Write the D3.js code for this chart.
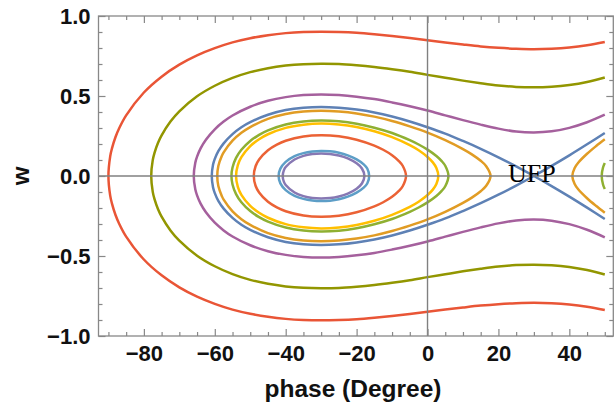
<!DOCTYPE html>
<html>
<head>
<meta charset="utf-8">
<script src="https://cdn.jsdelivr.net/npm/d3@7"></script>
<style>
  body { margin: 0; background: #fff; }
  .tick text { font-family: "Liberation Sans", Arial, sans-serif; font-weight: bold; font-size: 22px; fill: #111; }
</style>
</head>
<body>
<div id="chart"></div>
<script>
// upper halves (w >= 0) of each trajectory: [phase (deg), w]
const redOuter = [[-90,0],[-89.5,0.123],[-89,0.173],[-88,0.244],[-87,0.297],[-85,0.379],[-80,0.522],[-75,0.621],[-70,0.696],[-65,0.754],[-60,0.799],[-55,0.835],[-50,0.861],[-45,0.880],[-40,0.893],[-35,0.900],[-30,0.902],[-25,0.900],[-20,0.895],[-15,0.886],[-10,0.875],[-5,0.863],[0,0.849],[5,0.835],[10,0.822],[15,0.810],[20,0.801],[25,0.795],[30,0.792],[35,0.795],[40,0.803],[45,0.817],[50,0.837]];
const olive = [[-77.93,0],[-77.5,0.099],[-77,0.145],[-76,0.208],[-75,0.254],[-72.5,0.340],[-70,0.404],[-65,0.498],[-60,0.564],[-55,0.613],[-50,0.649],[-45,0.674],[-40,0.690],[-35,0.699],[-30,0.702],[-25,0.700],[-20,0.692],[-15,0.681],[-10,0.667],[-5,0.651],[0,0.632],[5,0.614],[10,0.596],[15,0.580],[20,0.566],[25,0.557],[30,0.554],[35,0.558],[40,0.569],[45,0.588],[50,0.616]];
const purpleOuter = [[-65.93,0],[-65.5,0.083],[-65,0.121],[-64,0.173],[-62.5,0.227],[-60,0.292],[-57.5,0.340],[-55,0.378],[-50,0.433],[-45,0.470],[-40,0.493],[-35,0.506],[-30,0.510],[-25,0.506],[-20,0.496],[-15,0.481],[-10,0.460],[-5,0.436],[0,0.409],[5,0.379],[10,0.349],[15,0.321],[20,0.296],[25,0.278],[30,0.272],[35,0.279],[40,0.301],[45,0.336],[50,0.383]];
const sepLoop = [[-60.85,0],[-60.5,0.070],[-60,0.107],[-59,0.155],[-57.5,0.204],[-55,0.262],[-52.5,0.305],[-50,0.337],[-45,0.383],[-40,0.412],[-35,0.427],[-30,0.432],[-25,0.427],[-20,0.415],[-15,0.397],[-10,0.372],[-5,0.341],[0,0.305],[5,0.265],[10,0.219],[15,0.170],[20,0.117],[25,0.060],[30,0]];
const sepRight = [[30,0],[35,0.063],[40,0.129],[45,0.198],[50,0.269]];
const orangeLoop = [[-59.3,0],[-59,0.063],[-58,0.126],[-57.5,0.148],[-55,0.221],[-52.5,0.270],[-50,0.306],[-45,0.357],[-40,0.387],[-35,0.403],[-30,0.408],[-25,0.403],[-20,0.391],[-15,0.371],[-10,0.344],[-5,0.310],[0,0.271],[5,0.224],[10,0.168],[12.5,0.135],[15,0.095],[16.5,0.063],[17.78,0]];
const orangeRight = [[40.84,0],[41.5,0.050],[42.5,0.083],[45,0.139],[47.5,0.186],[50,0.229]];
const greenLoop = [[-55.3,0],[-55,0.053],[-54,0.113],[-52.5,0.164],[-50,0.219],[-47.5,0.257],[-45,0.285],[-40,0.322],[-35,0.341],[-30,0.347],[-25,0.342],[-20,0.327],[-15,0.302],[-10,0.269],[-5,0.224],[-2.5,0.197],[0,0.165],[2.5,0.125],[4,0.093],[5,0.064],[5.9,0]];
const greenRight = [[49.13,0],[49.5,0.053],[50,0.081]];
const yellowLoop = [[-54,0],[-53.5,0.068],[-52.5,0.118],[-50,0.187],[-47.5,0.230],[-45,0.261],[-40,0.301],[-35,0.321],[-30,0.328],[-25,0.322],[-20,0.306],[-15,0.280],[-10,0.243],[-5,0.193],[-2.5,0.161],[0,0.119],[1.5,0.085],[2.5,0.050],[3.05,0]];
const redInner = [[-49,0],[-48.5,0.061],[-47.5,0.103],[-45,0.161],[-42.5,0.196],[-40,0.220],[-35,0.247],[-30,0.255],[-25,0.248],[-20,0.227],[-15,0.190],[-12.5,0.164],[-10,0.130],[-8,0.092],[-7,0.064],[-6.07,0]];
const lightBlue = [[-42,0],[-41.5,0.046],[-40,0.088],[-37.5,0.124],[-35,0.143],[-32.5,0.153],[-30,0.157],[-27.5,0.154],[-25,0.145],[-22.5,0.129],[-20,0.104],[-18,0.073],[-17,0.047],[-16.45,0]];
const purpleInner = [[-40.85,0],[-40.5,0.037],[-40,0.056],[-37.5,0.103],[-35,0.126],[-32.5,0.138],[-30,0.141],[-27.5,0.138],[-25,0.128],[-22.5,0.110],[-20,0.079],[-18.5,0.047],[-17.8,0]];

const xMajor = [-80, -60, -40, -20, 0, 20, 40];
const yMajor = [-1.0, -0.5, 0.0, 0.5, 1.0];
const xLabel = "phase (Degree)";
const yLabel = "w";
const ufp = {phase: 22.7, w: -0.04, text: "UFP"};

const width = 616, height = 405;
const x = d3.scaleLinear().domain([-92.8, 52.4]).range([98.5, 613.3]);
const y = d3.scaleLinear().domain([-1, 1]).range([336, 16]);

const svg = d3.select("#chart").append("svg")
    .attr("width", width)
    .attr("height", height);

svg.append("clipPath").attr("id", "plot-clip")
  .append("rect")
    .attr("x", x.range()[0]).attr("y", y.range()[1])
    .attr("width", x.range()[1] - x.range()[0])
    .attr("height", y.range()[0] - y.range()[1]);

const mirror = pts => pts.map(d => [d[0], -d[1]]);

// closed orbit: top half left->right, bottom half back
function loopPoints(upper) {
    return upper.concat(mirror(upper.slice(1, -1)).reverse());
}
// open branch through its w=0 turning point
function branchPoints(upper) {
    return mirror(upper).reverse().concat(upper.slice(1));
}
// separatrix: upper-right -> saddle -> lower loop -> upper loop -> saddle -> lower-right
function separatrixPoints(loop, right) {
    const lowerLoop = mirror(loop).reverse();
    return right.slice().reverse()
        .concat(lowerLoop.slice(1))
        .concat(loop.slice(1))
        .concat(mirror(right).slice(1));
}

const curves = [
    {pts: separatrixPoints(sepLoop, sepRight), closed: false, color: "#5E81B5"},
    {pts: loopPoints(orangeLoop), closed: true, color: "#E19C24"},
    {pts: branchPoints(orangeRight), closed: false, color: "#E19C24"},
    {pts: loopPoints(greenLoop), closed: true, color: "#8FB032"},
    {pts: branchPoints(greenRight), closed: false, color: "#8FB032"},
    {pts: loopPoints(redInner), closed: true, color: "#EB6235"},
    {pts: loopPoints(purpleInner), closed: true, color: "#8778B3"},
    {pts: loopPoints(lightBlue), closed: true, color: "#5D9EC7"},
    {pts: loopPoints(yellowLoop), closed: true, color: "#FFBF00"},
    {pts: branchPoints(purpleOuter), closed: false, color: "#A5609D"},
    {pts: branchPoints(olive), closed: false, color: "#929600"},
    {pts: branchPoints(redOuter), closed: false, color: "#E95536"}
];

const lineOpen = d3.line().x(d => x(d[0])).y(d => y(d[1])).curve(d3.curveCatmullRom.alpha(0.5));
const lineClosed = d3.line().x(d => x(d[0])).y(d => y(d[1])).curve(d3.curveCatmullRomClosed.alpha(0.5));

const plot = svg.append("g").attr("clip-path", "url(#plot-clip)");
plot.selectAll("path.orbit")
    .data(curves)
    .join("path")
    .attr("class", "orbit")
    .attr("fill", "none")
    .attr("stroke", d => d.color)
    .attr("stroke-width", 2.5)
    .attr("stroke-linejoin", "round")
    .attr("d", d => d.closed ? lineClosed(d.pts) : lineOpen(d.pts));

// axes through the origin
svg.append("line")
    .attr("x1", x.range()[0]).attr("x2", x.range()[1])
    .attr("y1", y(0)).attr("y2", y(0))
    .attr("stroke", "#808080").attr("stroke-width", 1.4);
svg.append("line")
    .attr("x1", x(0)).attr("x2", x(0))
    .attr("y1", y.range()[0]).attr("y2", y.range()[1])
    .attr("stroke", "#808080").attr("stroke-width", 1.4);

// frame ticks, pointing inward
const xMinor = d3.range(-90, 51, 5).filter(v => !xMajor.includes(v));
const yMinor = d3.range(-10, 11).map(v => v / 10).filter(v => !yMajor.some(m => Math.abs(m - v) < 1e-9));
const fmtY = d3.format(".1f");

function frameAxis(axis, tr) {
    const g = svg.append("g").attr("transform", tr).call(axis);
    g.select(".domain").remove();
    g.selectAll(".tick line").attr("stroke", "#888").attr("stroke-width", 1.2);
    return g;
}

frameAxis(d3.axisBottom(x).tickValues(xMajor).tickSize(-7).tickPadding(9).tickFormat(d3.format("d")), `translate(0,${y.range()[0]})`);
frameAxis(d3.axisBottom(x).tickValues(xMinor).tickSize(-4).tickFormat(""), `translate(0,${y.range()[0]})`);
frameAxis(d3.axisTop(x).tickValues(xMajor).tickSize(-7).tickFormat(""), `translate(0,${y.range()[1]})`);
frameAxis(d3.axisTop(x).tickValues(xMinor).tickSize(-4).tickFormat(""), `translate(0,${y.range()[1]})`);
frameAxis(d3.axisLeft(y).tickValues(yMajor).tickSize(-7).tickPadding(8).tickFormat(fmtY), `translate(${x.range()[0]},0)`);
frameAxis(d3.axisLeft(y).tickValues(yMinor).tickSize(-4).tickFormat(""), `translate(${x.range()[0]},0)`);
frameAxis(d3.axisRight(y).tickValues(yMajor).tickSize(-7).tickFormat(""), `translate(${x.range()[1]},0)`);
frameAxis(d3.axisRight(y).tickValues(yMinor).tickSize(-4).tickFormat(""), `translate(${x.range()[1]},0)`);

svg.append("rect")
    .attr("x", x.range()[0]).attr("y", y.range()[1])
    .attr("width", x.range()[1] - x.range()[0])
    .attr("height", y.range()[0] - y.range()[1])
    .attr("fill", "none")
    .attr("stroke", "#888")
    .attr("stroke-width", 1.3);

svg.append("text")
    .attr("x", 353)
    .attr("y", 397)
    .attr("text-anchor", "middle")
    .style("font-family", "Liberation Sans, Arial, sans-serif")
    .style("font-weight", "bold")
    .style("font-size", "24.5px")
    .style("fill", "#111")
    .text(xLabel);

svg.append("text")
    .attr("transform", `translate(29,${y(0)}) rotate(-90)`)
    .attr("text-anchor", "middle")
    .style("font-family", "Liberation Sans, Arial, sans-serif")
    .style("font-weight", "bold")
    .style("font-size", "24px")
    .style("fill", "#111")
    .text(yLabel);

svg.append("text")
    .attr("x", x(ufp.phase))
    .attr("y", y(ufp.w))
    .style("font-family", "Liberation Serif, Times New Roman, serif")
    .style("font-size", "26px")
    .style("fill", "#000")
    .text(ufp.text);
</script>
</body>
</html>
